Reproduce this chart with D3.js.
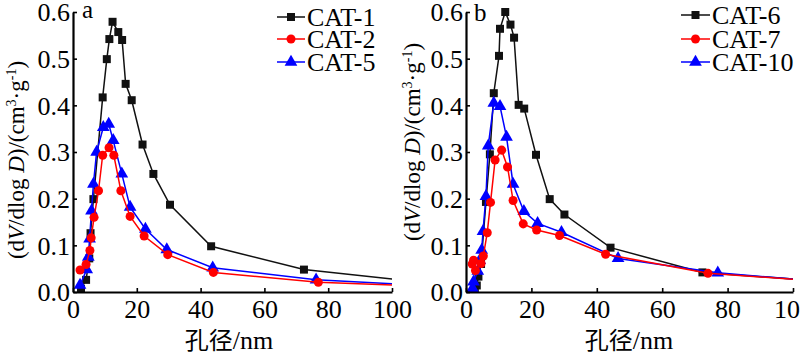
<!DOCTYPE html>
<html><head><meta charset="utf-8">
<script src="https://cdn.jsdelivr.net/npm/d3@7/dist/d3.min.js"></script>
<style>
html,body{margin:0;padding:0;background:#fff;}
svg{display:block;}
text{font-family:"Liberation Serif","Times New Roman",serif;fill:#000;}
</style></head>
<body>
<svg id="c" width="800" height="355"></svg>
<script>
// ---- data (x: pore diameter nm, y: dV/dlogD) ----
const xTicks = [0, 20, 40, 60, 80, 100];
const yTicks = [0.0, 0.1, 0.2, 0.3, 0.4, 0.5, 0.6];

const cat1 = [[2.5,0.007],[4.1,0.026],[5.1,0.072],[5.5,0.126],[6.4,0.199],[9.3,0.417],[10.6,0.499],[11.4,0.542],[12.4,0.579],[14.2,0.557],[15.4,0.540],[16.5,0.446],[18.4,0.411],[21.8,0.316],[25.2,0.253],[30.4,0.187],[43.3,0.098],[72.4,0.048],[105,0.024]];
const cat2 = [[2.2,0.047],[4.1,0.059],[5.3,0.089],[5.7,0.116],[6.6,0.160],[8.0,0.217],[9.3,0.293],[11.3,0.309],[12.8,0.293],[15.0,0.217],[17.9,0.162],[22.3,0.120],[29.7,0.080],[44.0,0.042],[76.9,0.021],[105,0.014]];
const cat5 = [[2.2,0.015],[4.3,0.048],[4.8,0.075],[5.2,0.114],[5.8,0.174],[6.4,0.231],[7.4,0.300],[9.5,0.353],[11.2,0.360],[12.6,0.325],[15.3,0.253],[17.9,0.182],[22.7,0.135],[29.4,0.091],[43.8,0.052],[76.2,0.026],[105,0.016]];

const cat6 = [[2.7,0.008],[3.3,0.014],[3.8,0.033],[4.6,0.060],[6.1,0.193],[7.3,0.295],[8.5,0.426],[10.1,0.506],[10.4,0.564],[12.0,0.600],[13.6,0.573],[14.7,0.545],[16.1,0.401],[17.8,0.393],[21.4,0.294],[25.6,0.199],[30.1,0.166],[44.2,0.095],[72.3,0.042],[105,0.025]];
const cat7 = [[1.9,0.060],[2.3,0.068],[2.9,0.046],[4.6,0.061],[5.3,0.077],[6.5,0.127],[7.5,0.192],[8.9,0.283],[10.9,0.304],[12.7,0.268],[14.4,0.196],[17.5,0.146],[21.6,0.133],[28.6,0.121],[42.7,0.081],[74.0,0.040],[105,0.025]];
const cat10 = [[2.0,0.008],[2.3,0.022],[3.6,0.045],[4.2,0.068],[4.8,0.090],[5.2,0.130],[6.1,0.205],[6.8,0.313],[8.5,0.405],[10.4,0.398],[12.4,0.332],[14.4,0.231],[17.7,0.173],[21.9,0.147],[29.2,0.128],[46.5,0.072],[77.0,0.041],[105,0.025]];

const panelA = {label:"a", names:["CAT-1","CAT-2","CAT-5"], data:[cat1,cat2,cat5]};
const panelB = {label:"b", names:["CAT-6","CAT-7","CAT-10"], data:[cat6,cat7,cat10]};

// ---- layout / style ----
const colors = ["#111111","#ff0000","#0000ff"];
const shapes = [d3.symbolSquare, d3.symbolCircle, d3.symbolTriangle];
const shapeSize = [64, 64, 70];
const drawOrder = [0, 2, 1];

const layouts = [
  {p:panelA, x0:73, x1:392, yTitleX:24, yTitleY:160, xTitleX:229, legX:277, legLine:28, legRows:[17,39,62], labX:82, labY:18},
  {p:panelB, x0:466, x1:793, yTitleX:420, yTitleY:142, xTitleX:629, legX:681, legLine:29, legRows:[15,39,62], labX:474, labY:21}
];
const yTop = 12, yBot = 292;

const svg = d3.select("#c");

layouts.forEach((L, pi) => {
  const x = d3.scaleLinear().domain([0,100]).range([L.x0, L.x1]);
  const y = d3.scaleLinear().domain([0,0.6]).range([yBot, yTop]);
  const g = svg.append("g");

  const clipId = "clip" + pi;
  svg.append("defs").append("clipPath").attr("id", clipId)
    .append("rect").attr("x", L.x0).attr("y", 0).attr("width", L.x1 - L.x0).attr("height", yBot + 6);

  const line = d3.line().x(d => x(d[0])).y(d => y(d[1]));
  const plot = g.append("g").attr("clip-path", `url(#${clipId})`);
  drawOrder.forEach(si => {
    const ds = L.p.data[si];
    plot.append("path").datum(ds).attr("d", line)
      .attr("fill","none").attr("stroke", colors[si]).attr("stroke-width", 1.5);
    plot.selectAll(null).data(ds).enter().append("path")
      .attr("d", d3.symbol().type(shapes[si]).size(shapeSize[si]))
      .attr("transform", d => `translate(${x(d[0])},${y(d[1])})`)
      .attr("fill", colors[si]);
  });

  // axes
  const xAxis = d3.axisBottom(x).tickValues(xTicks).tickSizeInner(-4).tickSizeOuter(0).tickPadding(7).tickFormat(d3.format("d"));
  const yAxis = d3.axisLeft(y).tickValues(yTicks).tickSizeInner(-4).tickSizeOuter(0).tickPadding(3).tickFormat(d3.format(".1f"));
  const gx = g.append("g").attr("transform", `translate(0,${yBot})`).call(xAxis);
  const gy = g.append("g").attr("transform", `translate(${L.x0},0)`).call(yAxis);
  [gx, gy].forEach(a => {
    a.select(".domain").attr("stroke","#000").attr("stroke-width",2.2);
    a.selectAll(".tick line").attr("stroke","#000").attr("stroke-width",1.6);
    a.selectAll(".tick text").attr("font-family","Liberation Serif").attr("font-size",26).attr("fill","#000");
  });
  gx.selectAll(".tick text").attr("dy","0.72em");
  gy.selectAll(".tick text").attr("dy","0.34em");

  // panel letter
  g.append("text").attr("x", L.labX).attr("y", L.labY).attr("font-size", 25).text(L.p.label);

  // legend
  L.p.names.forEach((nm, i) => {
    const ry = L.legRows[i];
    g.append("line").attr("x1", L.legX).attr("x2", L.legX + L.legLine).attr("y1", ry).attr("y2", ry)
      .attr("stroke", colors[i]).attr("stroke-width", 1.5);
    g.append("path").attr("d", d3.symbol().type(shapes[i]).size(shapeSize[i]))
      .attr("transform", `translate(${L.legX + L.legLine/2},${ry})`).attr("fill", colors[i]);
    g.append("text").attr("x", L.legX + L.legLine + 2).attr("y", ry + 9).attr("font-size", 26).text(nm);
  });

  // y title
  const yt = g.append("text").attr("transform", `translate(${L.yTitleX},${L.yTitleY}) rotate(-90)`)
    .attr("text-anchor","middle").attr("font-size", 23);
  yt.append("tspan").text("(d");
  yt.append("tspan").attr("font-style","italic").text("V");
  yt.append("tspan").text("/dlog ");
  yt.append("tspan").attr("font-style","italic").text("D");
  yt.append("tspan").text(")/(cm");
  yt.append("tspan").attr("font-size",14).attr("dy",-8).text("3");
  yt.append("tspan").attr("dy",8).text("·g");
  yt.append("tspan").attr("font-size",14).attr("dy",-8).text("-1");
  yt.append("tspan").attr("dy",8).text(")");

  // x title
  const xt = g.append("text").attr("x", L.xTitleX).attr("y", 349).attr("text-anchor","middle").attr("font-size", 26);
  xt.append("tspan").attr("font-family","'Noto Sans CJK SC'").attr("font-size",24).text("孔径");
  xt.append("tspan").text("/nm");
});
</script>
</body></html>
